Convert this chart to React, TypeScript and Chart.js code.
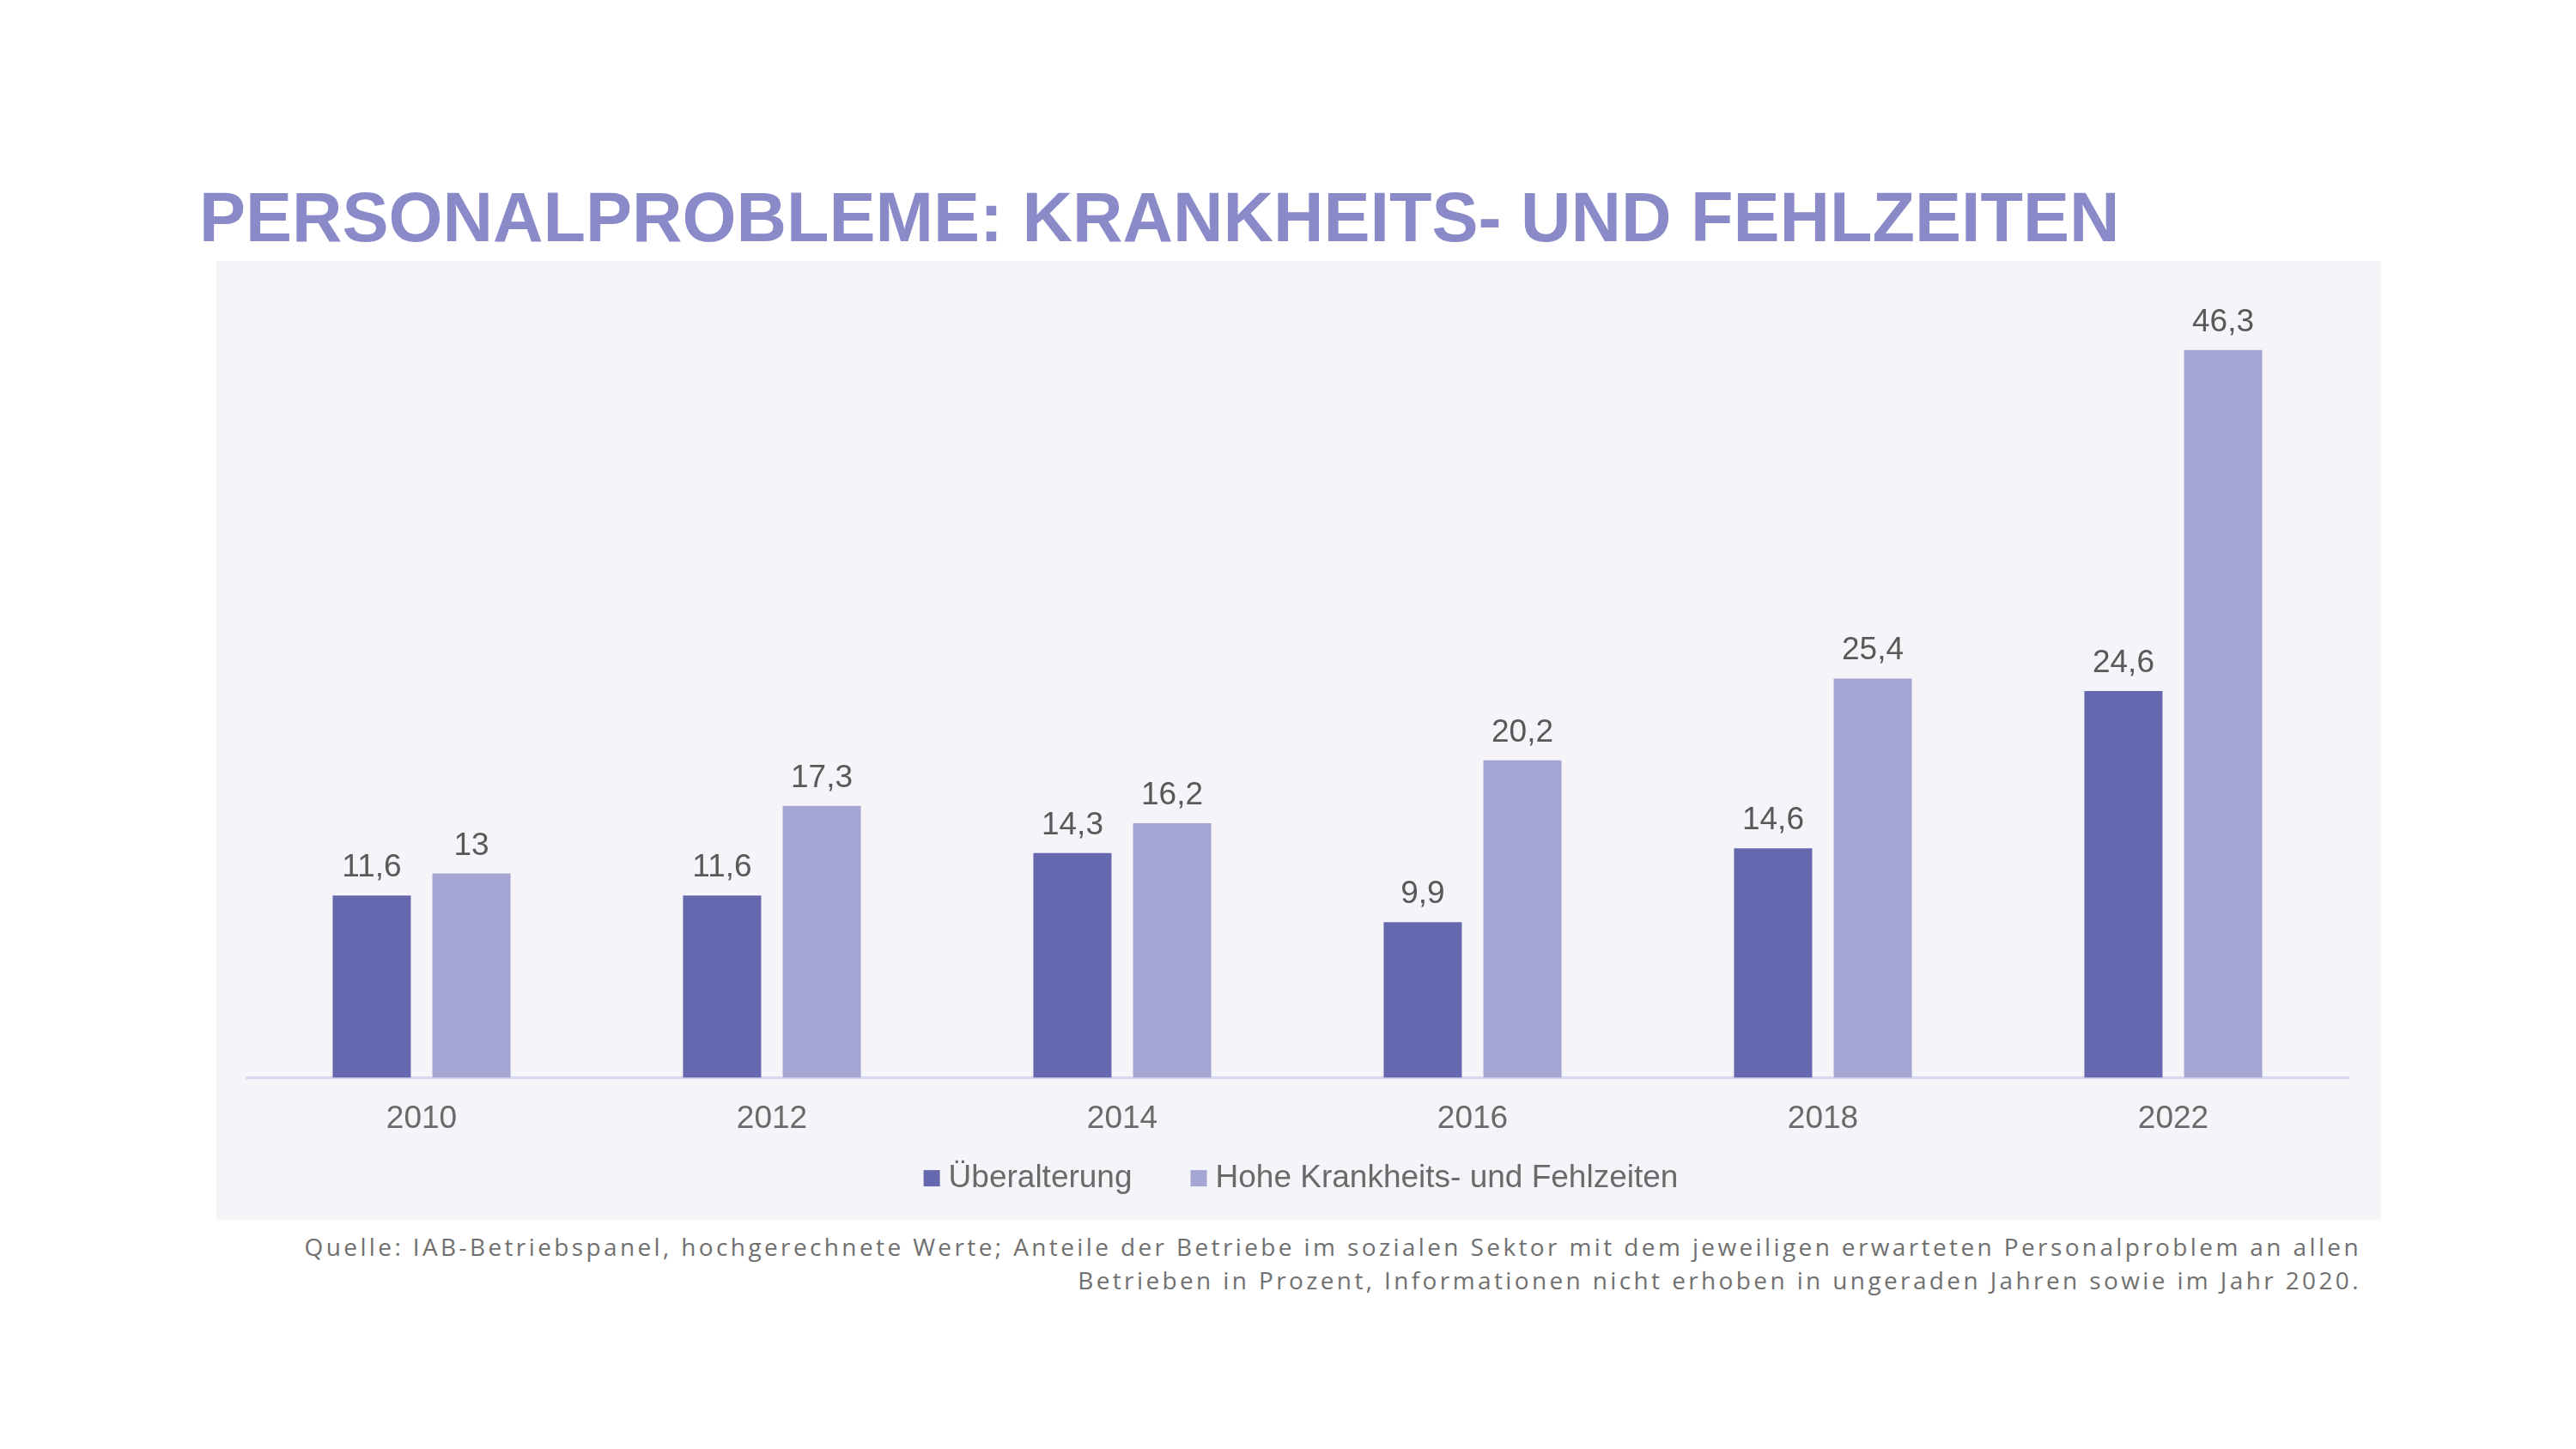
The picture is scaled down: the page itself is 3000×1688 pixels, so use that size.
import React, { useEffect, useRef } from "react";
import { Chart, registerables } from "chart.js";

Chart.register(...registerables);

const categories = ["2010", "2012", "2014", "2016", "2018", "2022"];
const seriesNames = ["Überalterung", "Hohe Krankheits- und Fehlzeiten"];
const ueberalterung = [11.6, 11.6, 14.3, 9.9, 14.6, 24.6];
const krankheitFehlzeiten = [13, 17.3, 16.2, 20.2, 25.4, 46.3];
const seriesColors = ["#6568AF", "#A4A5D3"];
const yMax = 50;
const titleText = "PERSONALPROBLEME: KRANKHEITS- UND FEHLZEITEN";
const sourceLines = [
  "Quelle: IAB-Betriebspanel, hochgerechnete Werte; Anteile der Betriebe im sozialen Sektor mit dem jeweiligen erwarteten Personalproblem an allen",
  "Betrieben in Prozent, Informationen nicht erhoben in ungeraden Jahren sowie im Jahr 2020.",
];

const FONT = "'Liberation Sans', Arial, sans-serif";
const VALUE_COLOR = "#595959";
const TEXT_COLOR = "#6A6A6A";

const fmt = (v: number) => v.toLocaleString("de-DE");

const valueLabelPlugin = {
  id: "valueLabels",
  afterDatasetsDraw(chart: any) {
    const ctx = chart.ctx;
    ctx.save();
    ctx.font = `37px ${FONT}`;
    ctx.fillStyle = VALUE_COLOR;
    ctx.textAlign = "center";
    ctx.textBaseline = "alphabetic";
    chart.data.datasets.forEach((ds: any, i: number) => {
      const meta = chart.getDatasetMeta(i);
      meta.data.forEach((el: any, j: number) => {
        ctx.fillText(fmt(ds.data[j]), el.x, el.y - 22);
      });
    });
    ctx.restore();
  },
};

const customLegendPlugin = {
  id: "customLegend",
  afterDraw(chart: any) {
    const ctx = chart.ctx;
    const area = chart.chartArea;
    ctx.save();
    ctx.font = `37px ${FONT}`;
    const box = 19;
    const boxGap = 10;
    const itemGap = 68;
    const items = chart.data.datasets.map((ds: any) => ({
      text: ds.label,
      color: ds.backgroundColor,
      w: ctx.measureText(ds.label).width,
    }));
    const total =
      items.reduce((s: number, it: any) => s + box + boxGap + it.w, 0) +
      itemGap * (items.length - 1);
    let x = (area.left + area.right) / 2 + 4 - total / 2;
    const yc = area.bottom + 117;
    items.forEach((it: any) => {
      ctx.fillStyle = it.color;
      ctx.fillRect(x, yc - box / 2, box, box);
      x += box + boxGap;
      ctx.fillStyle = TEXT_COLOR;
      ctx.textAlign = "left";
      ctx.textBaseline = "middle";
      ctx.fillText(it.text, x, yc);
      x += it.w + itemGap;
    });
    ctx.restore();
  },
};

function BarChart() {
  const ref = useRef<HTMLCanvasElement>(null);
  useEffect(() => {
    if (!ref.current) return;
    const chart = new Chart(ref.current, {
      type: "bar",
      data: {
        labels: categories,
        datasets: [
          {
            label: seriesNames[0],
            data: ueberalterung,
            backgroundColor: seriesColors[0],
            categoryPercentage: 0.569,
            barPercentage: 0.784,
          },
          {
            label: seriesNames[1],
            data: krankheitFehlzeiten,
            backgroundColor: seriesColors[1],
            categoryPercentage: 0.569,
            barPercentage: 0.784,
          },
        ],
      },
      options: {
        animation: false,
        responsive: false,
        devicePixelRatio: 1,
        layout: { padding: { left: 35, right: 38, top: 36, bottom: 69 } },
        plugins: {
          legend: { display: false },
          tooltip: { enabled: false },
        },
        scales: {
          x: {
            grid: { display: false, drawTicks: false },
            border: { display: true, color: "#D8D6F0", width: 3 },
            ticks: {
              color: TEXT_COLOR,
              font: { family: FONT, size: 37 },
              padding: 26,
            },
          },
          y: {
            display: false,
            min: 0,
            max: yMax,
          },
        },
      },
      plugins: [valueLabelPlugin, customLegendPlugin],
    });
    return () => chart.destroy();
  }, []);
  return (
    <canvas
      ref={ref}
      width={2521}
      height={1117}
      style={{ width: 2521, height: 1117, display: "block" }}
    />
  );
}

export default function App() {
  useEffect(() => {
    document.body.style.margin = "0";
    document.body.style.background = "#ffffff";
  }, []);
  return (
    <div style={{ position: "relative", width: 3000, height: 1688, background: "#fff" }}>
      <div
        style={{
          position: "absolute",
          left: 232,
          top: 213,
          fontFamily: FONT,
          fontWeight: 700,
          fontSize: 81,
          lineHeight: 1,
          color: "#8A8AC8",
          whiteSpace: "nowrap",
        }}
      >
        {titleText}
      </div>
      <div
        style={{
          position: "absolute",
          left: 252,
          top: 304,
          width: 2521,
          height: 1117,
          background: "#F5F4F9",
        }}
      >
        <BarChart />
      </div>
      <div
        style={{
          position: "absolute",
          left: 0,
          top: 1433,
          width: 2750,
          textAlign: "right",
          fontFamily: "'Open Sans', sans-serif",
          fontSize: 28,
          lineHeight: "39px",
          letterSpacing: 3.38,
          color: "#707070",
          whiteSpace: "nowrap",
        }}
      >
        {sourceLines.map((l, i) => (
          <div key={i}>{l}</div>
        ))}
      </div>
    </div>
  );
}
